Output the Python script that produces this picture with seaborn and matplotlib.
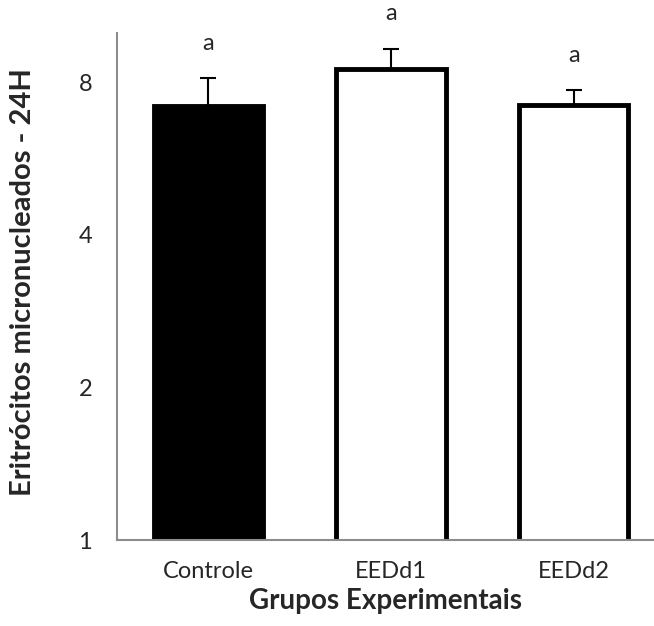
import pandas as pd
import seaborn as sns
import matplotlib.pyplot as plt

# Values (log2 axis)
groups = ['Controle', 'EEDd1', 'EEDd2']
means = [7.20, 8.51, 7.23]
err_up = [0.95, 0.81, 0.48]
letters = ['a', 'a', 'a']
fills = ['black', 'white', 'white']

data = pd.DataFrame({'Grupo': groups, 'Media': means})

sns.set_style("white")
plt.rcParams['font.family'] = ['Lato', 'DejaVu Sans']

fig = plt.figure(figsize=(6.54, 6.26), dpi=100)
ax = fig.add_axes([0.179, 0.137, 0.821, 0.810])

sns.barplot(data=data, x='Grupo', y='Media', hue='Grupo', palette=fills,
            legend=False, width=0.6, edgecolor='black', linewidth=3.5,
            errorbar=None, ax=ax)

# Only the upper half of the error bars
ax.errorbar(range(len(groups)), means, yerr=[[0] * len(groups), err_up],
            fmt='none', ecolor='black', elinewidth=1.5, capsize=6, capthick=1.5)

# Significance letters above each error bar
for i, (m, e, t) in enumerate(zip(means, err_up, letters)):
    ax.annotate(t, xy=(i, m + e), xytext=(0, 25), textcoords='offset points',
                ha='center', va='center', fontsize=17)

ax.set_yscale('log', base=2)
ax.set_ylim(1, 10)
ax.set_yticks([1, 2, 4, 8])
ax.set_yticklabels(['1', '2', '4', '8'])
ax.set_xlim(-0.5, 2.44)

ax.set_xlabel('Grupos Experimentais', fontsize=20, fontweight='bold', labelpad=4)
ax.set_ylabel('Eritrócitos micronucleados - 24H', fontsize=21, fontweight='bold')
ax.yaxis.set_label_coords(-0.151, 0.51)
ax.tick_params(axis='both', length=0, labelsize=17)
ax.tick_params(axis='y', pad=18)
ax.tick_params(axis='x', pad=15)
ax.minorticks_off()

sns.despine(ax=ax)
for side in ['left', 'bottom']:
    ax.spines[side].set_color('#8c8c8c')
    ax.spines[side].set_linewidth(1.5)

fig.savefig('out.png', dpi=100)
